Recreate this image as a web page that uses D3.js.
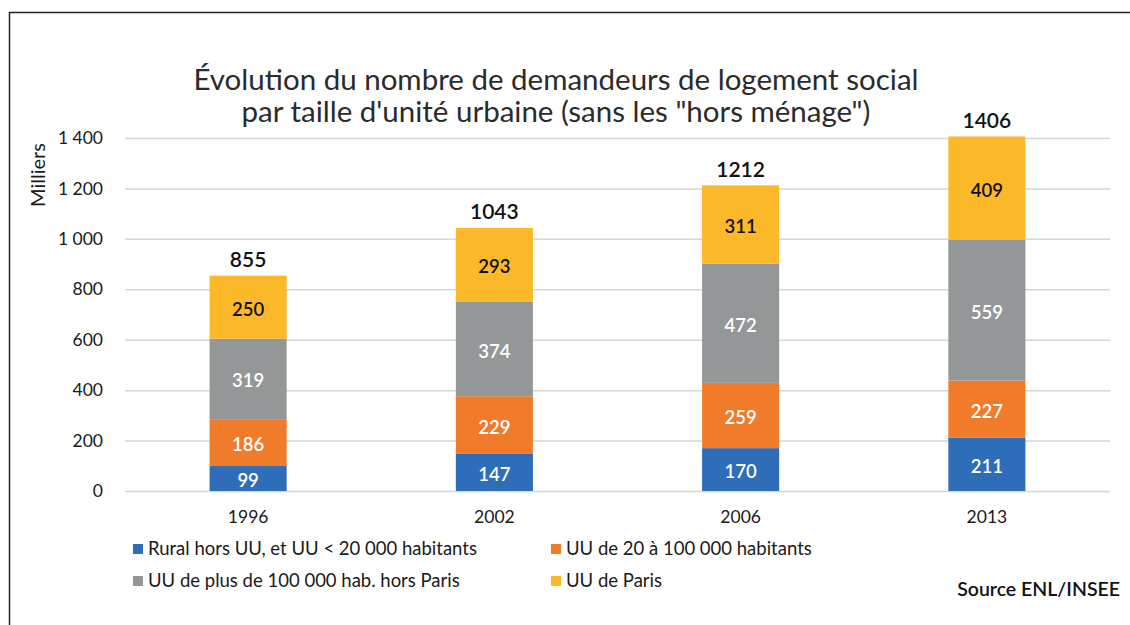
<!DOCTYPE html>
<html>
<head>
<meta charset="utf-8">
<script src="https://cdn.jsdelivr.net/npm/d3@7"></script>
<style>
  body { margin: 0; background: #fff; }
  text { font-family: Lato, "Open Sans", sans-serif; }
</style>
</head>
<body>
<div id="chart"></div>
<script>
var years = ["1996", "2002", "2006", "2013"];
var seriesNames = [
  "Rural hors UU, et UU < 20 000 habitants",
  "UU de 20 à 100 000 habitants",
  "UU de plus de 100 000 hab. hors Paris",
  "UU de Paris"
];
var rural = [99, 147, 170, 211];
var moyennes = [186, 229, 259, 227];
var grandes = [319, 374, 472, 559];
var paris = [250, 293, 311, 409];
var totals = [855, 1043, 1212, 1406];
var yTicks = [0, 200, 400, 600, 800, 1000, 1200, 1400];
var colors = ["#2e6db8", "#f07c2b", "#949797", "#fbb829"];
var labelColors = ["#fff", "#fff", "#fff", "#111"];

var W = 1130, H = 625;
var margin = {top: 138, left: 125, right: 20, bottom: 134};

var svg = d3.select("#chart").append("svg")
  .attr("width", W)
  .attr("height", H);

svg.append("rect").attr("width", W).attr("height", H).attr("fill", "#fff");

// frame
svg.append("rect")
  .attr("x", 9.5).attr("y", 12.5)
  .attr("width", W + 20).attr("height", H + 20)
  .attr("fill", "none")
  .attr("stroke", "#222")
  .attr("stroke-width", 1.5);

// title
svg.append("text")
  .attr("x", 556).attr("y", 90)
  .attr("text-anchor", "middle")
  .attr("font-size", 29.5)
  .attr("fill", "#2b2b2b")
  .text("Évolution du nombre de demandeurs de logement social");
svg.append("text")
  .attr("x", 556).attr("y", 122)
  .attr("text-anchor", "middle")
  .attr("font-size", 29.5)
  .attr("fill", "#2b2b2b")
  .text("par taille d'unité urbaine (sans les \"hors ménage\")");

var x = d3.scaleBand()
  .domain(years)
  .range([margin.left, W - margin.right])
  .paddingInner(0.687)
  .paddingOuter(0.3435);

var y = d3.scaleLinear()
  .domain([0, 1400])
  .range([491, 138]);

var fr = d3.formatLocale({decimal: ",", thousands: " ", grouping: [3], currency: ["", " €"]});

// y axis + gridlines
var yAxis = svg.append("g")
  .attr("transform", "translate(" + margin.left + ",0)")
  .call(d3.axisLeft(y).tickValues(yTicks).tickFormat(fr.format(",d"))
    .tickSize(-(W - margin.right - margin.left)).tickPadding(22));
yAxis.select(".domain").remove();
yAxis.selectAll("line").attr("stroke", "#d6d6d6").attr("stroke-width", 1.5);
yAxis.selectAll("text")
  .attr("font-size", 17.5)
  .attr("fill", "#1a1a1a")
  .style("font-family", "Lato, sans-serif");

svg.append("text")
  .attr("transform", "translate(45,175) rotate(-90)")
  .attr("text-anchor", "middle")
  .attr("font-size", 20)
  .attr("fill", "#1a1a1a")
  .text("Milliers");

// x axis
var xAxis = svg.append("g")
  .attr("transform", "translate(0,491)")
  .call(d3.axisBottom(x).tickSize(0).tickPadding(20));
xAxis.select(".domain").remove();
xAxis.selectAll("text")
  .attr("font-size", 17.5)
  .attr("fill", "#1a1a1a")
  .style("font-family", "Lato, sans-serif");

// stacked data
var rows = years.map(function(yr, i) {
  return {year: yr, s0: rural[i], s1: moyennes[i], s2: grandes[i], s3: paris[i], total: totals[i]};
});
var stack = d3.stack().keys(["s0", "s1", "s2", "s3"])(rows);

var layers = svg.selectAll("g.layer")
  .data(stack)
  .enter().append("g")
  .attr("class", "layer")
  .attr("fill", function(d, i) { return colors[i]; });

layers.selectAll("rect")
  .data(function(d) { return d; })
  .enter().append("rect")
  .attr("x", function(d) { return x(d.data.year); })
  .attr("width", x.bandwidth())
  .attr("y", function(d) { return y(d[1]); })
  .attr("height", function(d) { return y(d[0]) - y(d[1]); });

layers.each(function(layer, i) {
  d3.select(this).selectAll("text")
    .data(layer)
    .enter().append("text")
    .attr("x", function(d) { return x(d.data.year) + x.bandwidth() / 2; })
    .attr("y", function(d) { return (y(d[0]) + y(d[1])) / 2 + 2; })
    .attr("dy", "0.35em")
    .attr("text-anchor", "middle")
    .attr("font-size", 18.5)
    .attr("font-weight", 600)
    .attr("fill", labelColors[i])
    .text(function(d) { return d.data[layer.key]; });
});

// totals
svg.selectAll("text.total")
  .data(rows)
  .enter().append("text")
  .attr("class", "total")
  .attr("x", function(d) { return x(d.year) + x.bandwidth() / 2; })
  .attr("y", function(d) { return y(d.total) - 16; })
  .attr("dy", "0.35em")
  .attr("text-anchor", "middle")
  .attr("font-size", 21)
  .attr("font-weight", 600)
  .attr("fill", "#111")
  .text(function(d) { return d.total; });

// legend
var legendPos = [[133, 549], [551, 549], [133, 581], [551, 581]];
var legend = svg.selectAll("g.legend")
  .data(seriesNames)
  .enter().append("g")
  .attr("class", "legend")
  .attr("transform", function(d, i) { return "translate(" + legendPos[i][0] + "," + legendPos[i][1] + ")"; });
legend.append("rect")
  .attr("x", 0).attr("y", -5)
  .attr("width", 10).attr("height", 10)
  .attr("fill", function(d, i) { return colors[i]; });
legend.append("text")
  .attr("x", 15)
  .attr("dy", "0.35em")
  .attr("font-size", 18.5)
  .attr("fill", "#1a1a1a")
  .text(function(d) { return d; });

svg.append("text")
  .attr("x", 1120).attr("y", 589)
  .attr("dy", "0.35em")
  .attr("text-anchor", "end")
  .attr("font-size", 19.5)
  .attr("font-weight", 600)
  .attr("fill", "#111")
  .text("Source ENL/INSEE");
</script>
</body>
</html>
